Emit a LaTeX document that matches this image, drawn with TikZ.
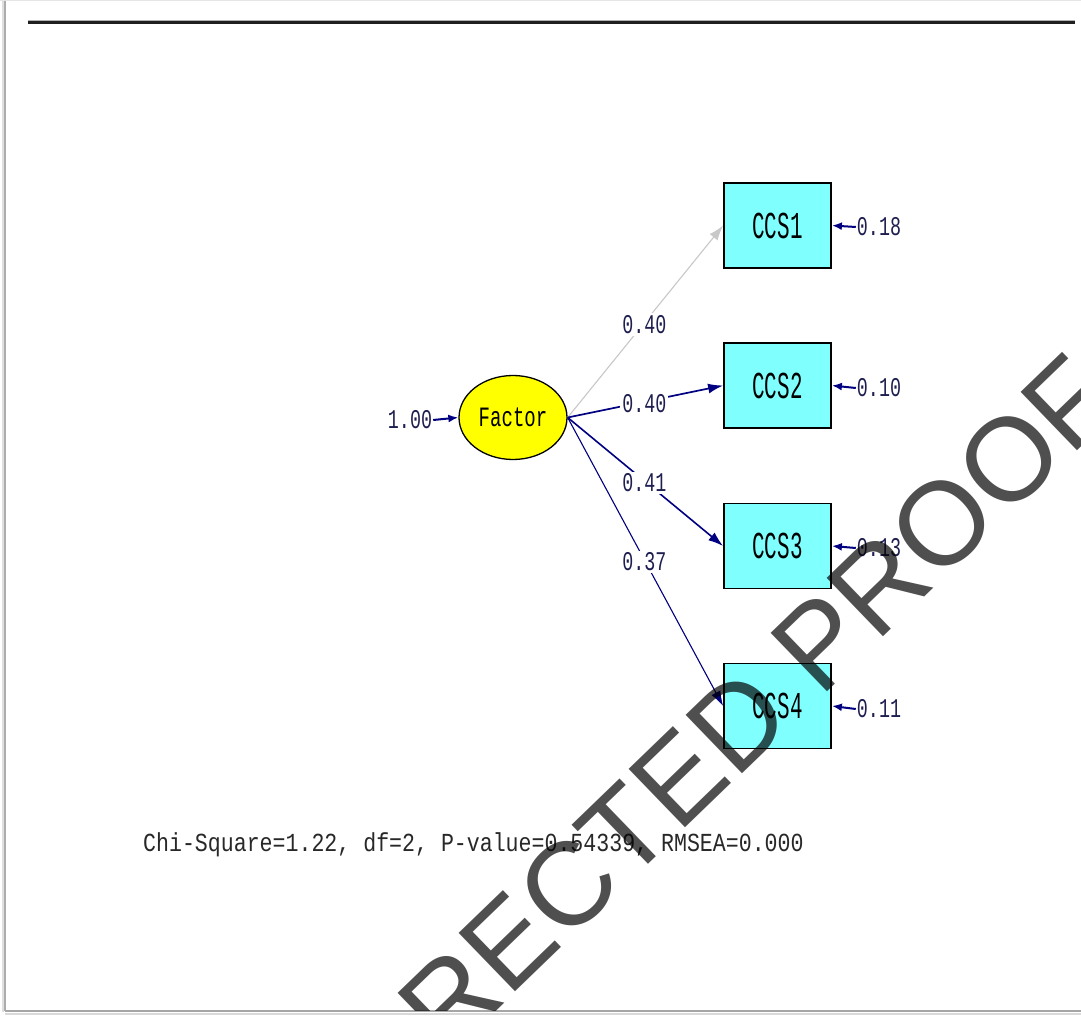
\documentclass[tikz,border=0pt]{standalone}
\usepackage{fontspec}
\usetikzlibrary{arrows.meta,shapes.geometric}
\newfontfamily\boxfont[FakeStretch=0.55]{Liberation Mono}
\newfontfamily\lblfont[FakeStretch=0.68]{Liberation Mono}
\newfontfamily\chifont[FakeStretch=0.83]{Liberation Mono}
\newfontfamily\wmfont{Liberation Sans}
\definecolor{boxcyan}{HTML}{80FFFF}
\definecolor{latyellow}{HTML}{FFFF00}
\definecolor{pathnavy}{HTML}{000080}
\definecolor{pathgray}{HTML}{C8C8C8}
\definecolor{labelcol}{HTML}{1E1E50}
\definecolor{chicol}{HTML}{282828}
\definecolor{rulecol}{HTML}{202020}
\begin{document}
\begin{tikzpicture}[x=1pt,y=-1pt,
  obs/.style={rectangle, draw=black, line width=1.8pt, fill=boxcyan,
    minimum width=107pt, minimum height=85pt, inner sep=0pt,
    font=\boxfont\fontsize{38}{38}\selectfont},
  lat/.style={ellipse, draw=black, line width=1.3pt, fill=latyellow,
    minimum width=108pt, minimum height=84pt, inner sep=0pt,
    font=\lblfont\fontsize{28}{28}\selectfont},
  lbl/.style={inner sep=1pt, text=labelcol, font=\lblfont\fontsize{27}{27}\selectfont},
  plbl/.style={lbl, fill=white, inner sep=2pt, yshift=-2pt},
  pth/.style={draw=pathnavy, line width=1.5pt, -{Latex[length=15pt,width=10pt]}},
  err/.style={draw=pathnavy, line width=2pt, -{Latex[length=10pt,width=8pt]}},
  wmark/.style={rotate=44, inner sep=0pt, text=black, text opacity=0.69,
    font=\wmfont\fontsize{118}{118}\selectfont}
]
\useasboundingbox (0,0) rectangle (1081,1016);
\fill[white] (0,0) rectangle (1081,1016);
% frame
\draw[gray!20, line width=1pt] (0,0.5) -- (1081,0.5);
\draw[gray!25, line width=2pt] (2.5,1) -- (2.5,1012);
\draw[gray!65, line width=1.5pt] (5,1) -- (5,1011);
\draw[gray!30, line width=2.5pt] (5,1013.8) -- (1081,1013.8);
\draw[gray!70, line width=1.5pt] (5,1011) -- (1081,1011);
% top rule
\draw[gray!60, line width=4pt] (28,22.5) -- (1075,22.5);
\draw[rulecol, line width=2.5pt] (28,22.5) -- (1075,22.5);

% nodes
\node[lat] (F) at (513,417.5) {Factor};
\node[obs] (c1) at (777.5,225.5) {CCS1};
\node[obs] (c2) at (777.5,385.5) {CCS2};
\node[obs] (c3) at (777.5,546) {CCS3};
\node[obs] (c4) at (777.5,706) {CCS4};

% variance / error labels
\node[lbl] (v) at (410,420) {1.00};
\node[lbl] (e1) at (879,227) {0.18};
\node[lbl] (e2) at (879,388) {0.10};
\node[lbl] (e3) at (879,548) {0.13};
\node[lbl] (e4) at (879,709) {0.11};

\draw[err] (v.east) -- (F.west);
\draw[err] (e1.west) -- (c1.east);
\draw[err] (e2.west) -- (c2.east);
\draw[err] (e3.west) -- (c3.east);
\draw[err] (e4.west) -- (c4.east);

% loadings
\draw[pth, draw=pathgray, line width=1.1pt] (F.east) -- node[plbl, pos=0.494] {0.40} (c1.west);
\draw[pth, line width=1.7pt] (F.east) -- node[plbl, pos=0.494] {0.40} (c2.west);
\draw[pth, line width=1.6pt] (F.east) -- node[plbl, pos=0.494] {0.41} (c3.west);
\draw[pth, line width=1.1pt] (F.east) -- node[plbl, pos=0.494] {0.37} (c4.west);

% fit statistics
\node[anchor=west, inner sep=0pt, text=chicol, font=\chifont\fontsize{26}{26}\selectfont] (fit) at (143,845)
  {Chi-Square=1.22, df=2, P-value=0.54339, RMSEA=0.000};

% watermark
\begin{scope}
\clip (6,1.5) rectangle (1081,1010);
\node[wmark] (wm) at (601,853.5) {UNCORRECTED PROOF};
\end{scope}
\end{tikzpicture}
\end{document}
